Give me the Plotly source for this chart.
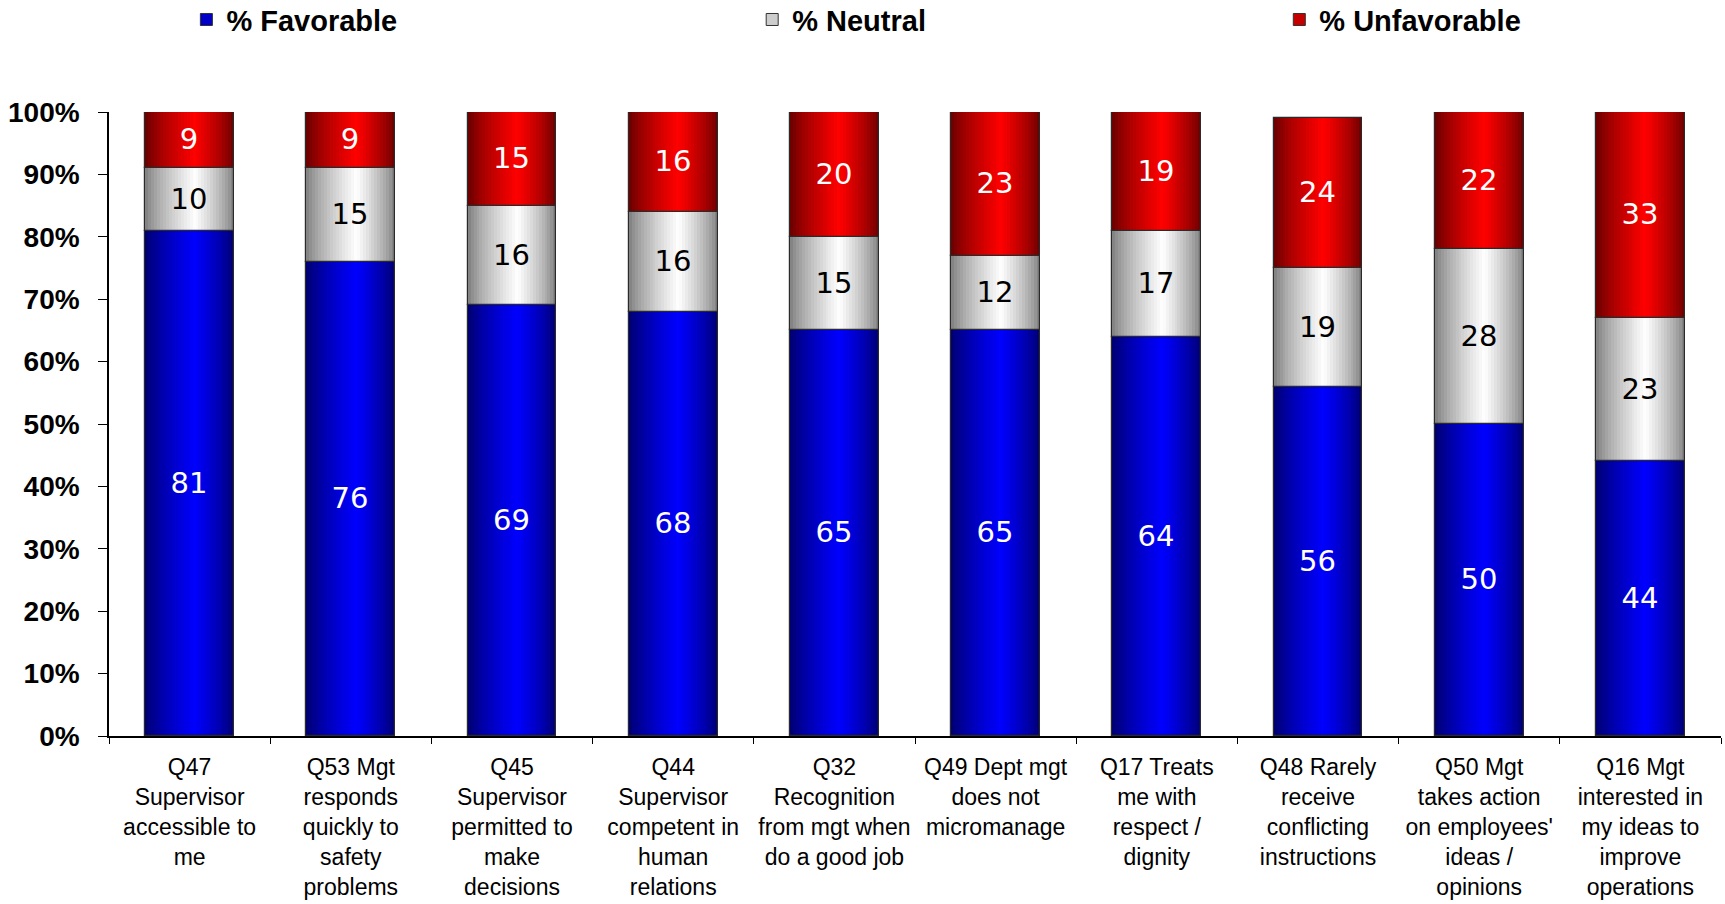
import plotly.graph_objects as go

categories = [
    "Q47<br>Supervisor<br>accessible to<br>me",
    "Q53 Mgt<br>responds<br>quickly to<br>safety<br>problems",
    "Q45<br>Supervisor<br>permitted to<br>make<br>decisions",
    "Q44<br>Supervisor<br>competent in<br>human<br>relations",
    "Q32<br>Recognition<br>from mgt when<br>do a good job",
    "Q49 Dept mgt<br>does not<br>micromanage",
    "Q17 Treats<br>me with<br>respect /<br>dignity",
    "Q48 Rarely<br>receive<br>conflicting<br>instructions",
    "Q50 Mgt<br>takes action<br>on employees'<br>ideas /<br>opinions",
    "Q16 Mgt<br>interested in<br>my ideas to<br>improve<br>operations",
]
favorable = [81, 76, 69, 68, 65, 65, 64, 56, 50, 44]
neutral = [10, 15, 16, 16, 15, 12, 17, 19, 28, 23]
unfavorable = [9, 9, 15, 16, 20, 23, 19, 24, 22, 33]

series = [
    # name, values, edge colour, centre colour, label colour
    ("% Favorable", favorable, (0, 0, 105), (0, 0, 255), "white"),
    ("% Neutral", neutral, (122, 122, 122), (255, 255, 255), "black"),
    ("% Unfavorable", unfavorable, (100, 0, 0), (255, 0, 0), "white"),
]

BAR_W = 0.55
N_STRIPS = 30
PEAK = 0.56


def shade(t, dark, bright):
    half = PEAK if t < PEAK else 1 - PEAK
    p = max(0.0, 1 - abs(t - PEAK) / half)
    p = p ** 0.75
    return "rgb({},{},{})".format(*[round(d + (b - d) * p) for d, b in zip(dark, bright)])


fig = go.Figure()
bases = [0] * len(categories)
legend_ids = ["legend", "legend2", "legend3"]

for idx, (name, vals, dark, bright, txtcol) in enumerate(series):
    base = list(bases)
    sw = BAR_W / N_STRIPS
    # horizontal shading: many narrow strips across each bar
    for k in range(N_STRIPS):
        t = (k + 0.5) / N_STRIPS
        fig.add_trace(go.Bar(
            x=categories, y=vals, base=base,
            offset=-BAR_W / 2 + k * sw, width=sw * 1.6 if k < N_STRIPS - 1 else sw,
            marker=dict(color=shade(t, dark, bright), line=dict(width=0)),
            showlegend=False, hoverinfo="skip",
        ))
    # outline and value label
    fig.add_trace(go.Bar(
        x=categories, y=vals, base=base,
        offset=-BAR_W / 2, width=BAR_W,
        marker=dict(color="rgba(0,0,0,0)", line=dict(color="#2a2a2a", width=1.2)),
        text=[str(v) for v in vals], textposition="inside",
        insidetextanchor="middle", textangle=0, constraintext="none",
        textfont=dict(family="DejaVu Sans", size=29, color=txtcol),
        showlegend=False, name=name,
    ))
    # legend entry
    fig.add_trace(go.Bar(
        x=[None], y=[None], name=name,
        marker=dict(color=shade(0.3, dark, bright), line=dict(color="#333333", width=1)),
        legend=legend_ids[idx], showlegend=True,
    ))
    bases = [b + v for b, v in zip(bases, vals)]

legend_font = dict(family="Liberation Sans, Arial", size=29, color="black", weight="bold")
legend_x = [0.048, 0.399, 0.726]
legend_layout = {}
for lid, lx in zip(legend_ids, legend_x):
    legend_layout[lid] = dict(
        x=lx, y=1.148, xanchor="left", yanchor="middle",
        orientation="h", font=legend_font, bgcolor="rgba(0,0,0,0)",
        itemclick=False, itemdoubleclick=False,
    )

fig.update_layout(
    width=1725, height=904,
    margin=dict(l=109, r=4, t=112, b=168, autoexpand=False),
    paper_bgcolor="white", plot_bgcolor="white",
    barmode="overlay", bargap=0,
    **legend_layout,
    xaxis=dict(
        type="category", showline=True, linecolor="black", linewidth=1.5,
        ticks="outside", tickson="boundaries", ticklen=6, tickcolor="black",
        tickfont=dict(family="Liberation Sans, Arial", size=23, color="black"),
        ticklabelstandoff=10, showgrid=False, zeroline=False,
    ),
    yaxis=dict(
        range=[0, 100], tickmode="linear", tick0=0, dtick=10, ticksuffix="%",
        showline=True, linecolor="black", linewidth=1.5,
        ticks="outside", ticklen=9, tickcolor="black",
        tickfont=dict(family="Liberation Sans, Arial", size=28, color="black", weight="bold"),
        ticklabelstandoff=13, showgrid=False, zeroline=False,
    ),
)

fig.write_html("out.html")
